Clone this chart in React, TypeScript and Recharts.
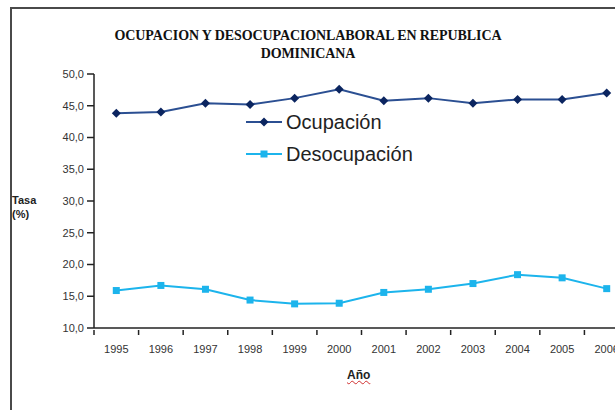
import { LineChart, Line, XAxis, YAxis } from 'recharts'

const years = ['1995', '1996', '1997', '1998', '1999', '2000', '2001', '2002', '2003', '2004', '2005', '2006']
const ocupacion = [43.8, 44.0, 45.4, 45.2, 46.2, 47.6, 45.8, 46.2, 45.4, 46.0, 46.0, 47.0]
const desocupacion = [15.9, 16.7, 16.1, 14.4, 13.8, 13.9, 15.6, 16.1, 17.0, 18.4, 17.9, 16.2]
const yTicks = [10, 15, 20, 25, 30, 35, 40, 45, 50]

const OCUP_LINE = '#2b4f92'
const OCUP_DOT = '#0b2560'
const DESOC = '#1cb4ec'
const FONT = '"Liberation Sans", Arial, sans-serif'

const CHART_W = 660
const PLOT_LEFT = 94
const PLOT_RIGHT = 629
const BAND = (PLOT_RIGHT - PLOT_LEFT) / years.length

const data = years.map((year, i) => ({
    year,
    'Ocupación': ocupacion[i],
    'Desocupación': desocupacion[i],
}))

const Diamond = (props: any) => {
    const { cx, cy, fill } = props
    if (cx == null || cy == null) return null
    const r = 4.5
    return <path d={`M${cx},${cy - r}L${cx + r},${cy}L${cx},${cy + r}L${cx - r},${cy}Z`} fill={fill} />
}

const Square = (props: any) => {
    const { cx, cy, fill } = props
    if (cx == null || cy == null) return null
    const s = 7
    return <rect x={cx - s / 2} y={cy - s / 2} width={s} height={s} fill={fill} />
}

// Excel-style ticks: marks sit between categories, labels at the centre
const YearTick = (props: any) => {
    const { x, y, payload } = props
    const tx = x - BAND / 2
    return (
        <g>
            <line x1={tx} x2={tx} y1={y} y2={y + 5} stroke="#222" strokeWidth={1.5} />
            <text x={x} y={y + 23} textAnchor="middle" fontSize={11} fill="#333" fontFamily={FONT}>
                {payload.value}
            </text>
        </g>
    )
}

const LegendBox = () => (
    <div style={{ fontFamily: FONT, fontSize: 20, color: '#222', lineHeight: '32px' }}>
        <div style={{ display: 'flex', alignItems: 'center' }}>
            <svg width={40} height={16}>
                <line x1={0} x2={36} y1={8} y2={8} stroke={OCUP_LINE} strokeWidth={2} />
                <Diamond cx={18} cy={8} fill={OCUP_DOT} />
            </svg>
            <span>Ocupación</span>
        </div>
        <div style={{ display: 'flex', alignItems: 'center' }}>
            <svg width={40} height={16}>
                <line x1={0} x2={36} y1={8} y2={8} stroke={DESOC} strokeWidth={2} />
                <Square cx={18} cy={8} fill={DESOC} />
            </svg>
            <span>Desocupación</span>
        </div>
    </div>
)

export default function App() {
    return (
        <div style={{ position: 'fixed', left: 0, top: 0, width: 615, height: 410, overflow: 'hidden', background: '#fff' }}>
            {/* outer chart frame, cut off at right and bottom */}
            <div style={{ position: 'absolute', left: 10, top: 7, width: 700, height: 500, borderLeft: '2px solid #4a4a4a', borderTop: '2px solid #4a4a4a' }} />
            <div style={{ position: 'absolute', left: 58, top: 27, width: 500, textAlign: 'center', fontFamily: '"Liberation Serif", "Times New Roman", serif', fontWeight: 'bold', fontSize: 14, lineHeight: '18px', color: '#111', letterSpacing: -0.1 }}>
                OCUPACION Y DESOCUPACIONLABORAL EN REPUBLICA<br />DOMINICANA
            </div>
            <div style={{ position: 'absolute', left: 12, top: 193, fontFamily: FONT, fontSize: 11, fontWeight: 'bold', color: '#222', lineHeight: '14px' }}>
                Tasa<br />(%)
            </div>
            <div style={{ position: 'absolute', left: 347, top: 368, fontFamily: FONT, fontSize: 12, fontWeight: 'bold', color: '#222', textDecoration: 'underline wavy #d03030', textDecorationThickness: 1 }}>
                Año
            </div>
            <LineChart
                width={CHART_W}
                height={410}
                data={data}
                margin={{ top: 74, right: CHART_W - PLOT_RIGHT, bottom: 52, left: 34 }}
                style={{ position: 'absolute', left: 0, top: 0 }}
            >
                <XAxis
                    dataKey="year"
                    tick={<YearTick />}
                    tickLine={false}
                    tickSize={0}
                    height={30}
                    interval={0}
                    padding={{ left: BAND / 2, right: BAND / 2 }}
                    axisLine={{ stroke: '#222', strokeWidth: 1.5 }}
                />
                <YAxis
                    domain={[10, 50]}
                    ticks={yTicks}
                    width={60}
                    tickSize={7}
                    tickMargin={3}
                    interval={0}
                    tickFormatter={(v: number) => v.toFixed(1).replace('.', ',')}
                    tick={{ fontSize: 11, fill: '#333', fontFamily: FONT }}
                    tickLine={{ stroke: '#222', strokeWidth: 1.5 }}
                    axisLine={{ stroke: '#222', strokeWidth: 1.5 }}
                />
                <Line
                    dataKey="Ocupación"
                    stroke={OCUP_LINE}
                    strokeWidth={2}
                    dot={<Diamond fill={OCUP_DOT} />}
                    activeDot={false}
                    isAnimationActive={false}
                />
                <Line
                    dataKey="Desocupación"
                    stroke={DESOC}
                    strokeWidth={2}
                    dot={<Square fill={DESOC} />}
                    activeDot={false}
                    isAnimationActive={false}
                />
            </LineChart>
            <div style={{ position: 'absolute', left: 246, top: 106 }}>
                <LegendBox />
            </div>
        </div>
    )
}
